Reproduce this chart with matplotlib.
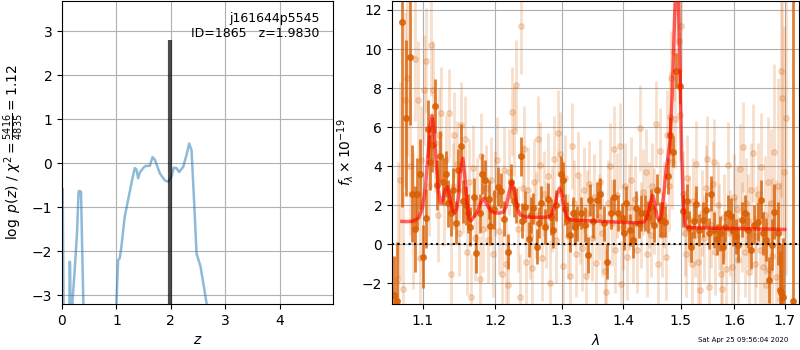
import numpy as np
import matplotlib
matplotlib.use("Agg")
import matplotlib.pyplot as plt
from matplotlib.ticker import NullLocator, FixedLocator, FixedFormatter

# ---------------- p(z) panel data ----------------
pz_z = [0.000, 0.012, 0.025, 0.040, 0.110, 0.135, 0.140, 0.148, 0.160, 0.175,
        0.195, 0.235, 0.275, 0.305, 0.318, 0.328, 0.338, 0.350, 0.370, 0.400,
        0.430, 0.950, 0.995, 1.000, 1.031, 1.061, 1.092, 1.153, 1.215, 1.288,
        1.337, 1.368, 1.399, 1.430, 1.490, 1.534, 1.613, 1.663, 1.706, 1.798,
        1.890, 1.950, 2.012, 2.055, 2.104, 2.153, 2.227, 2.288, 2.337, 2.380,
        2.429, 2.472, 2.546, 2.656, 2.750, 4.980]
pz_logp = [-0.57, -0.58, -2.5, -5.0, -5.0, -3.6, -2.24, -2.26, -3.5, -4.0,
           -3.1, -2.4, -1.6, -0.64, -0.63, -0.72, -0.64, -0.66, -1.9, -3.6,
           -6.0, -6.0, -4.5, -3.18, -2.20, -2.16, -1.89, -1.21, -0.83, -0.38,
           -0.11, -0.14, -0.34, -0.21, -0.11, -0.06, -0.06, 0.14, 0.08, -0.23,
           -0.39, -0.42, -0.30, -0.10, -0.11, -0.20, -0.08, 0.19, 0.45, 0.30,
           -0.91, -2.05, -2.35, -3.18, -4.5, -10.0]
z_best = 1.9830
z_line_top = 2.8
group_name = "j161644p5545"
obj_id = 1865
chi2_num, chi2_den, chi2_red = 5416, 4835, 1.12
timestamp = "Sat Apr 25 09:56:04 2020"

# ---------------- spectrum panel data ----------------
model_wave = [1.073, 1.080, 1.087, 1.095, 1.100, 1.104, 1.107, 1.110, 1.1125, 1.115,
              1.118, 1.121, 1.124, 1.127, 1.130, 1.1335, 1.137, 1.140, 1.143, 1.146,
              1.149, 1.1515, 1.1545, 1.157, 1.160, 1.163, 1.166, 1.170, 1.175, 1.180,
              1.1845, 1.189, 1.194, 1.200, 1.207, 1.212, 1.216, 1.220, 1.2245, 1.229,
              1.233, 1.237, 1.245, 1.260, 1.275, 1.283, 1.289, 1.293, 1.2967, 1.300,
              1.304, 1.308, 1.313, 1.330, 1.360, 1.400, 1.425, 1.436, 1.442, 1.447,
              1.4503, 1.454, 1.458, 1.462, 1.466, 1.470, 1.474, 1.478, 1.481, 1.485,
              1.489, 1.4927, 1.496, 1.499, 1.502, 1.505, 1.508, 1.511, 1.520, 1.560,
              1.620, 1.660, 1.700]
model_flux = [1.17, 1.16, 1.18, 1.35, 1.9, 3.0, 4.5, 6.0, 6.6, 6.0,
              4.3, 2.8, 2.1, 2.3, 2.8, 2.95, 2.3, 1.75, 1.6, 1.8,
              2.6, 3.8, 4.4, 3.6, 2.2, 1.3, 1.2, 1.4, 1.7, 2.15,
              2.35, 2.0, 1.7, 1.6, 1.6, 1.65, 1.9, 2.6, 3.2, 2.6,
              1.8, 1.5, 1.4, 1.38, 1.38, 1.45, 1.9, 2.55, 2.87, 2.6,
              1.9, 1.4, 1.25, 1.22, 1.18, 1.12, 1.1, 1.15, 1.5, 2.2,
              2.5, 2.1, 1.4, 1.25, 1.5, 2.6, 3.8, 4.6, 5.3, 7.8,
              11.5, 14.0, 12.5, 8.5, 4.5, 2.1, 1.1, 0.88, 0.85, 0.82,
              0.80, 0.78, 0.76]

dark_wave = [1.0625, 1.0668, 1.0726, 1.0786, 1.0830, 1.0864, 1.0895, 1.0930, 1.0965, 1.1005,
             1.1040, 1.1067, 1.1100, 1.1120, 1.1160, 1.1186, 1.1232, 1.1272, 1.1308, 1.1345,
             1.1376, 1.1410, 1.1445, 1.1477, 1.1522, 1.1550, 1.1590, 1.1620, 1.1645, 1.1700,
             1.1730, 1.1780, 1.1817, 1.1864, 1.1910, 1.1935, 1.1990, 1.2040, 1.2080, 1.2130,
             1.2190, 1.2235, 1.2280, 1.2310, 1.2377, 1.2400, 1.2438, 1.2500, 1.2530, 1.2565,
             1.2615, 1.2650, 1.2690, 1.2742, 1.2793, 1.2830, 1.2859, 1.2920, 1.2985, 1.3020,
             1.3050, 1.3087, 1.3130, 1.3173, 1.3210, 1.3240, 1.3300, 1.3366, 1.3417, 1.3450,
             1.3500, 1.3567, 1.3613, 1.3680, 1.3728, 1.3796, 1.3853, 1.3910, 1.3980, 1.4020,
             1.4054, 1.4111, 1.4168, 1.4225, 1.4260, 1.4300, 1.4368, 1.4425, 1.4483, 1.4530,
             1.4580, 1.4626, 1.4670, 1.4723, 1.4769, 1.4809, 1.4860, 1.4917, 1.4986, 1.5040,
             1.5110, 1.5146, 1.5186, 1.5240, 1.5285, 1.5330, 1.5414, 1.5460, 1.5524, 1.5560,
             1.5622, 1.5673, 1.5719, 1.5784, 1.5830, 1.5881, 1.5933, 1.5978, 1.6030, 1.6075,
             1.6140, 1.6205, 1.6270, 1.6321, 1.6386, 1.6464, 1.6516, 1.6561, 1.6626, 1.6690,
             1.6736, 1.6788, 1.6853, 1.6905, 1.6930, 1.6970, 1.7164]
dark_flux = [-2.6, -2.9, 11.4, 6.45, 9.6, 2.6, 0.77, 2.6, 3.6, -0.63,
             1.33, 5.9, 4.2, 5.1, 7.08, 3.04, 4.5, 3.2, 3.6, 2.1,
             1.6, 2.8, 1.1, 3.8, 5.05, 2.2, 2.0, 1.6, 0.9, 2.4,
             -0.46, 1.6, 3.6, 3.3, 2.3, 0.94, 1.8, 2.95, 2.75, 1.3,
             -0.38, 3.2, 2.2, 2.0, 4.5, 1.2, 1.93, 0.26, 1.5, 1.84,
             -0.12, 1.1, 2.1, 0.9, 2.32, 1.4, 0.73, 2.0, 3.6, 3.3,
             1.8, 1.25, 0.5, 1.6, 0.9, 1.07, 1.6, 1.0, -0.55, 2.27,
             1.2, 2.27, 2.6, 1.07, -0.89, 1.6, 2.44, 1.6, 1.33, 0.6,
             2.1, 0.73, 0.22, 1.84, 1.1, 1.6, 1.6, 1.4, 1.93, 1.0,
             2.8, 1.25, 1.25, 1.16, 3.5, 5.6, 4.75, 8.9, 8.1, 1.7,
             2.2, 0.82, -0.12, 1.2, 2.06, 0.73, 1.25, 1.76, 0.56, 2.6,
             0.73, 0.26, 0.56, -0.12, 0.9, 1.6, 1.45, 0.73, 0.4, -0.03,
             1.25, 1.6, 0.73, -0.29, 1.0, 1.16, 2.27, 0.56, 0.22, -1.83,
             -0.03, 1.67, 0.56, -2.34, -2.5, -2.7, -2.9]
dark_err = [2.0, 3.0, 9.5, 4.0, 3.5, 2.5, 2.2, 1.8, 1.8, 1.6,
            1.5, 1.5, 1.4, 1.4, 1.4, 1.3, 1.3, 1.2, 1.2, 1.2,
            1.2, 1.1, 1.1, 1.1, 1.1, 1.1, 1.0, 1.0, 1.0, 1.0,
            1.0, 1.0, 1.0, 1.0, 1.0, 1.0, 1.0, 1.0, 0.9, 0.9,
            0.9, 0.9, 0.8, 0.9, 1.0, 0.9, 0.8, 0.9, 0.9, 0.8,
            0.9, 0.8, 0.9, 0.9, 0.8, 0.9, 0.9, 0.8, 0.9, 0.9,
            0.8, 0.9, 0.9, 0.8, 0.9, 0.9, 0.8, 0.9, 0.9, 0.8,
            0.9, 0.9, 0.8, 0.9, 0.9, 0.8, 0.9, 0.9, 0.8, 0.9,
            0.9, 0.8, 0.9, 0.9, 0.8, 0.9, 0.9, 0.8, 0.9, 0.9,
            0.8, 0.9, 0.9, 0.8, 0.9, 0.9, 0.8, 0.9, 0.9, 0.8,
            0.9, 0.9, 0.8, 0.9, 0.9, 0.8, 0.9, 0.9, 0.8, 0.9,
            0.9, 0.8, 0.9, 0.9, 0.8, 0.9, 0.9, 0.8, 0.9, 0.9,
            0.9, 0.9, 0.9, 1.0, 1.0, 1.0, 1.0, 1.1, 1.1, 1.2,
            1.3, 1.4, 1.6, 2.0, 2.5, 3.0, 20.0]

light_wave = [1.0680, 1.0705, 1.0745, 1.0770, 1.0800, 1.0840, 1.0875, 1.0905, 1.0935, 1.0960,
              1.0985, 1.1020, 1.1050, 1.1080, 1.1110, 1.1140, 1.1170, 1.1200, 1.1220, 1.1250,
              1.1285, 1.1320, 1.1350, 1.1380, 1.1405, 1.1430, 1.1460, 1.1490, 1.1515, 1.1545,
              1.1575, 1.1600, 1.1630, 1.1660, 1.1690, 1.1720, 1.1750, 1.1780, 1.1800, 1.1830,
              1.1870, 1.1900, 1.1940, 1.1965, 1.2000, 1.2030, 1.2060, 1.2100, 1.2130, 1.2160,
              1.2185, 1.2210, 1.2250, 1.2276, 1.2300, 1.2330, 1.2360, 1.2377, 1.2410, 1.2430,
              1.2460, 1.2490, 1.2520, 1.2550, 1.2580, 1.2610, 1.2640, 1.2666, 1.2700, 1.2730,
              1.2760, 1.2790, 1.2820, 1.2850, 1.2880, 1.2910, 1.2950, 1.2975, 1.3000, 1.3030,
              1.3060, 1.3100, 1.3130, 1.3160, 1.3200, 1.3230, 1.3260, 1.3290, 1.3320, 1.3350,
              1.3380, 1.3410, 1.3440, 1.3480, 1.3520, 1.3550, 1.3590, 1.3620, 1.3650, 1.3690,
              1.3710, 1.3740, 1.3780, 1.3810, 1.3842, 1.3870, 1.3900, 1.3939, 1.3960, 1.4000,
              1.4030, 1.4070, 1.4100, 1.4130, 1.4160, 1.4200, 1.4240, 1.4282, 1.4310, 1.4340,
              1.4380, 1.4410, 1.4440, 1.4470, 1.4500, 1.4530, 1.4568, 1.4597, 1.4637, 1.4660,
              1.4700, 1.4730, 1.4757, 1.4790, 1.4809, 1.4826, 1.4850, 1.4872, 1.4900, 1.4940,
              1.4969, 1.4980, 1.5009, 1.5040, 1.5070, 1.5100, 1.5123, 1.5160, 1.5200, 1.5230,
              1.5260, 1.5285, 1.5320, 1.5362, 1.5390, 1.5430, 1.5460, 1.5492, 1.5524, 1.5560,
              1.5590, 1.5610, 1.5640, 1.5680, 1.5710, 1.5740, 1.5770, 1.5800, 1.5848, 1.5881,
              1.5910, 1.5950, 1.5990, 1.6020, 1.6050, 1.6080, 1.6108, 1.6140, 1.6173, 1.6200,
              1.6230, 1.6260, 1.6290, 1.6320, 1.6367, 1.6400, 1.6430, 1.6470, 1.6500, 1.6529,
              1.6561, 1.6600, 1.6630, 1.6658, 1.6690, 1.6720, 1.6750, 1.6788, 1.6820, 1.6860,
              1.6900, 1.6930, 1.6950, 1.6982, 1.7028]
light_flux = [-1.8, 3.3, -2.3, 7.4, 8.5, 4.0, 1.2, 9.5, 7.4, -0.7,
              4.3, 7.9, 9.4, 3.0, 10.2, 7.9, 5.2, 1.5, 5.6, 6.7,
              2.2, 4.3, 6.7, -1.5, 3.0, 5.6, 4.1, 0.6, 6.1, 2.8,
              5.4, -0.4, 3.2, -2.7, 3.9, 0.3, 2.2, -1.8, 4.5, 0.8,
              2.9, 0.2, 3.3, -0.5, 2.6, 4.3, 0.7, -1.5, 3.8, -1.0,
              -2.1, 3.7, 6.8, 5.8, 8.16, 0.8, -2.7, 11.2, 2.9, 4.9,
              -0.9, 2.8, 0.4, -1.2, 3.2, 1.5, 5.4, 4.06, -0.7, 2.6,
              1.0, 3.5, -2.0, 1.8, 4.35, 0.2, 5.7, 4.6, 2.2, -1.1,
              3.4, 0.4, -1.6, 5.03, 2.1, -0.5, 3.55, 1.2, -0.2, 2.8,
              -1.65, 1.6, 3.1, 0.3, 2.4, -0.97, 1.4, 3.2, 0.6, -1.35,
              -2.46, 2.1, 4.0, 1.1, 4.88, -0.3, 2.5, 5.05, -2.03, 0.9,
              3.0, -0.63, 1.9, 3.3, 0.2, 2.3, -0.3, 5.94, 1.0, 2.7,
              3.7, -0.5, 2.0, 0.5, 3.0, 1.7, 6.16, -1.0, 4.8, 0.5,
              2.0, -0.63, 5.6, 3.0, 6.5, 8.5, 4.2, 9.86, 6.4, 12.8,
              10.4, 6.6, 11.2, 2.6, 0.6, -0.5, 3.4, 1.3, -1.0, 2.2,
              0.5, 4.1, -0.9, -2.34, 1.6, 0.3, 2.9, 4.35, -2.2, 1.0,
              3.1, 4.2, -0.4, 2.0, 0.9, -1.5, -2.3, 1.4, -1.28, 4.06,
              0.6, -1.14, 2.4, 0.2, 1.8, -0.8, 3.84, 0.9, 5.0, -0.4,
              2.1, 1.2, -1.4, 2.8, 4.66, -1.0, 0.4, 2.6, -0.3, 3.94,
              -1.18, 1.5, -2.1, 3.2, -1.3, 2.1, -0.6, 4.75, -1.7, 3.0,
              -2.8, 8.9, 7.5, 3.7, 6.45]
light_err = [6.0, 5.0, 5.0, 4.5, 4.0, 3.5, 3.5, 3.2, 3.0, 3.0,
             2.8, 2.8, 2.7, 2.6, 2.6, 2.5, 2.5, 2.4, 2.4, 2.4,
             2.3, 2.3, 2.3, 2.3, 2.2, 2.2, 2.2, 2.2, 2.2, 2.2,
             2.2, 2.2, 2.2, 2.2, 2.2, 2.2, 2.2, 2.2, 2.2, 2.2,
             2.2, 2.2, 2.2, 2.2, 2.2, 2.2, 2.2, 2.2, 2.2, 2.2,
             2.2, 2.2, 2.3, 2.3, 2.3, 2.2, 2.2, 2.5, 2.2, 2.2,
             2.2, 2.2, 2.2, 2.2, 2.2, 2.2, 2.2, 2.2, 2.2, 2.2,
             2.2, 2.2, 2.2, 2.2, 2.2, 2.2, 2.2, 2.2, 2.2, 2.2,
             2.2, 2.2, 2.2, 2.2, 2.2, 2.2, 2.2, 2.2, 2.2, 2.2,
             2.2, 2.2, 2.2, 2.2, 2.2, 2.2, 2.2, 2.2, 2.2, 2.2,
             2.2, 2.2, 2.2, 2.2, 2.2, 2.2, 2.2, 2.2, 2.2, 2.2,
             2.2, 2.2, 2.2, 2.2, 2.2, 2.2, 2.2, 2.2, 2.2, 2.2,
             2.2, 2.2, 2.2, 2.2, 2.2, 2.2, 2.2, 2.2, 2.2, 2.2,
             2.2, 2.2, 2.3, 2.3, 2.3, 2.4, 2.4, 2.5, 2.5, 2.6,
             2.5, 2.4, 2.4, 2.2, 2.2, 2.2, 2.2, 2.2, 2.2, 2.2,
             2.2, 2.2, 2.2, 2.2, 2.2, 2.2, 2.2, 2.2, 2.2, 2.2,
             2.2, 2.2, 2.2, 2.2, 2.2, 2.2, 2.2, 2.2, 2.2, 2.2,
             2.2, 2.2, 2.2, 2.2, 2.2, 2.2, 2.3, 2.3, 2.3, 2.3,
             2.3, 2.4, 2.4, 2.4, 2.5, 2.5, 2.6, 2.6, 2.7, 2.8,
             2.9, 3.0, 3.2, 3.3, 3.5, 3.8, 4.0, 4.5, 5.0, 5.5,
             6.0, 6.5, 7.0, 7.5, 8.0]

wave_ticks = [1.1, 1.2, 1.3, 1.4, 1.5, 1.6, 1.7]

# ---------------- figure ----------------
fig = plt.figure(figsize=(8, 3.5), dpi=100)
ax1 = fig.add_axes([0.0775, 0.1314, 0.3388, 0.8657])
ax2 = fig.add_axes([0.490, 0.1314, 0.5088, 0.8657])

# p(z)
ax1.plot(pz_z, pz_logp, color='tab:blue', alpha=0.5, lw=1.8)
ax1.vlines(z_best, -10, z_line_top, color='k', alpha=0.7, lw=3)
ax1.set_xlim(0, 4.98)
ax1.set_ylim(-3.2, 3.69)
ax1.set_xticks([0, 1, 2, 3, 4])
ax1.set_yticks([-3, -2, -1, 0, 1, 2, 3])
ax1.grid(True)
ax1.set_axisbelow(True)
ax1.set_xlabel(r'$z$')
ax1.set_ylabel(r'$\log\ p(z)$ / $\chi^2=\frac{%d}{%d}=%.2f$' % (chi2_num, chi2_den, chi2_red))
ax1.text(0.95, 0.965, '%s\nID=%-5d  z=%.4f' % (group_name, obj_id, z_best),
         ha='right', va='top', transform=ax1.transAxes, fontsize=9)

# spectrum
col = '#d95f02'
ax2.errorbar(light_wave, light_flux, yerr=light_err, fmt='o', color=col, alpha=0.2,
             markersize=4, elinewidth=2, capsize=0, zorder=1)
ax2.errorbar(dark_wave, dark_flux, yerr=dark_err, fmt='o', color=col, alpha=0.8,
             markersize=4, elinewidth=2, capsize=0, zorder=2)
ax2.plot(model_wave, model_flux, color='r', alpha=0.6, lw=2.5, zorder=3)
ax2.axhline(0, color='k', ls=':', lw=1.5, zorder=4)
ax2.set_xscale('log')
ax2.xaxis.set_major_locator(FixedLocator(wave_ticks))
ax2.xaxis.set_major_formatter(FixedFormatter(['%.1f' % w for w in wave_ticks]))
ax2.xaxis.set_minor_locator(NullLocator())
ax2.set_xlim(1.0603, 1.7294)
ax2.set_ylim(-3.06, 12.46)
ax2.set_yticks([-2, 0, 2, 4, 6, 8, 10, 12])
ax2.grid(True)
ax2.set_axisbelow(True)
ax2.set_xlabel(r'$\lambda$')
ax2.set_ylabel(r'$f_\lambda\times10^{-19}$')

fig.text(0.985, 0.02, timestamp, ha='right', va='bottom', fontsize=5)

fig.savefig('out.png', dpi=100)
